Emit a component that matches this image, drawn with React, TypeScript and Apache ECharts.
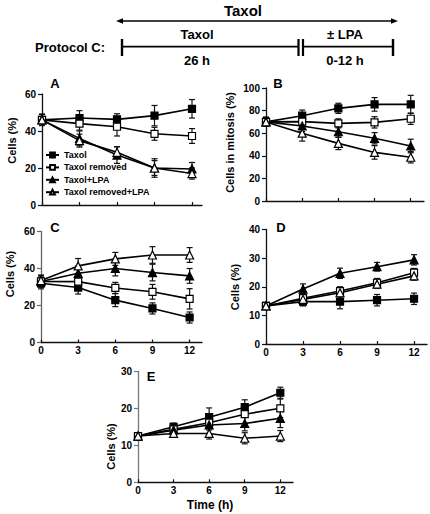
import React, { useEffect, useRef } from "react";
import * as echarts from "echarts";

const FONT = "Liberation Sans, Arial, Helvetica, sans-serif";

const timePoints = [0, 3, 6, 9, 12];
const seriesNames = ["Taxol", "Taxol removed", "Taxol+LPA", "Taxol removed+LPA"];

// Panel A (Cells %)
const aTaxol = [46, 47, 46.3, 48.3, 52];
const aTaxolErr = [3, 4, 3, 5.5, 5];
const aRemoved = [46, 44, 42.3, 38.5, 37.3];
const aRemovedErr = [3, 3.5, 5, 3.5, 4];
const aLPA = [46, 36, 27, 20, 19.5];
const aLPAErr = [3, 4, 4.5, 5, 3.5];
const aRemovedLPA = [46, 34.8, 28.5, 20, 17];
const aRemovedLPAErr = [3, 3.5, 3, 4, 3];

// Panel B (Cells in mitosis %)
const bTaxol = [70, 75.5, 82, 85.5, 85.5];
const bTaxolErr = [4, 5, 4.5, 6, 8];
const bRemoved = [70, 70.2, 68.7, 69.6, 72.8];
const bRemovedErr = [4, 4, 4, 5, 5];
const bLPA = [70, 66.4, 61.3, 55.5, 48.7];
const bLPAErr = [4, 5, 5, 5, 6];
const bRemovedLPA = [70, 60, 51, 43, 38.7];
const bRemovedLPAErr = [4, 7, 5.5, 6, 5];

// Panel C (Cells %)
const cTaxol = [32, 29.7, 22.9, 18.4, 13.5];
const cTaxolErr = [3, 3.5, 3.5, 3, 3];
const cRemoved = [33, 32.9, 29.5, 27.4, 23.6];
const cRemovedErr = [3, 3.5, 3, 4, 5.5];
const cLPA = [33, 37.4, 40, 37.8, 36];
const cLPAErr = [3, 4, 4, 4.5, 4];
const cRemovedLPA = [33.5, 41.4, 45.2, 47.3, 47.3];
const cRemovedLPAErr = [3, 4, 3.5, 4.5, 4];

// Panel D (Cells %)
const dTaxol = [13.3, 14.8, 14.8, 15.3, 15.8];
const dTaxolErr = [1, 1.5, 2.5, 2, 2];
const dRemoved = [13.3, 16, 18.5, 21.4, 24.9];
const dRemovedErr = [1, 1.5, 1.5, 1.5, 1.5];
const dLPA = [13.3, 19.2, 24.7, 27, 29.4];
const dLPAErr = [1, 1.8, 1.8, 1.5, 1.8];
const dRemovedLPA = [13.3, 15.6, 17.9, 20.9, 23.8];
const dRemovedLPAErr = [1, 1.5, 1.5, 1.5, 1.5];

// Panel E (Cells %)
const eTaxol = [12.5, 15, 17.6, 20.3, 24.2];
const eTaxolErr = [0.5, 1, 2.5, 2, 1.5];
const eRemoved = [12.5, 14.3, 16.1, 18.4, 20];
const eRemovedErr = [0.5, 1.5, 2, 2.5, 2.5];
const eLPA = [12.5, 14.1, 15.5, 15.9, 17.3];
const eLPAErr = [0.5, 1.5, 2.5, 2, 2.5];
const eRemovedLPA = [12.5, 13.2, 13.2, 11.9, 12.5];
const eRemovedLPAErr = [0.5, 1, 1.5, 1.5, 1.5];

const yMaxA = 60, yMaxB = 100, yMaxC = 60, yMaxD = 40, yMaxE = 30;
const yStepA = 20, yStepB = 20, yStepC = 20, yStepD = 10, yStepE = 10;

const panels = [
  { means: [aTaxol, aRemoved, aLPA, aRemovedLPA], errs: [aTaxolErr, aRemovedErr, aLPAErr, aRemovedLPAErr] },
  { means: [bTaxol, bRemoved, bLPA, bRemovedLPA], errs: [bTaxolErr, bRemovedErr, bLPAErr, bRemovedLPAErr] },
  { means: [cTaxol, cRemoved, cLPA, cRemovedLPA], errs: [cTaxolErr, cRemovedErr, cLPAErr, cRemovedLPAErr] },
  { means: [dTaxol, dRemoved, dLPA, dRemovedLPA], errs: [dTaxolErr, dRemovedErr, dLPAErr, dRemovedLPAErr] },
  { means: [eTaxol, eRemoved, eLPA, eRemovedLPA], errs: [eTaxolErr, eRemovedErr, eLPAErr, eRemovedLPAErr] },
];

const markerStyles = [
  { symbol: "rect", fill: "#000", size: 7 },
  { symbol: "rect", fill: "#fff", size: 7 },
  { symbol: "triangle", fill: "#000", size: 8 },
  { symbol: "triangle", fill: "#fff", size: 8 },
];

function buildOption() {
  const grids = [
    { left: 42, top: 94, width: 160, height: 111 },
    { left: 266, top: 88, width: 158, height: 113 },
    { left: 41, top: 231.5, width: 161, height: 111 },
    { left: 266, top: 229.5, width: 161, height: 114.5 },
    { left: 138, top: 371.3, width: 155, height: 111 },
  ];
  const xMaxes = [12.8, 13.1, 13, 13.05, 13.07];
  const yMaxes = [yMaxA, yMaxB, yMaxC, yMaxD, yMaxE];
  const ySteps = [yStepA, yStepB, yStepC, yStepD, yStepE];
  const yAxisColors = ["#111", "#111", "#666", "#111", "#777"];
  const showXLabels = [false, false, true, true, true];

  const xAxis = grids.map((_, i) => ({
    type: "value",
    gridIndex: i,
    min: 0,
    max: xMaxes[i],
    splitLine: { show: false },
    axisLine: { show: true, lineStyle: { color: "#111", width: 1.3 } },
    axisTick: { show: true, inside: true, length: 3, customValues: timePoints, lineStyle: { color: "#111", width: 1.2 } },
    axisLabel: {
      show: showXLabels[i],
      customValues: timePoints,
      margin: 3,
      fontSize: 10,
      fontWeight: "bold",
      fontFamily: FONT,
      color: "#000",
    },
  }));

  const yAxis = grids.map((_, i) => ({
    type: "value",
    gridIndex: i,
    min: 0,
    max: yMaxes[i],
    interval: ySteps[i],
    splitLine: { show: false },
    axisLine: { show: true, lineStyle: { color: yAxisColors[i], width: 1.3 } },
    axisTick: { show: true, length: 4, lineStyle: { color: yAxisColors[i], width: 1.2 } },
    axisLabel: { margin: 6, fontSize: 10, fontWeight: "bold", fontFamily: FONT, color: "#000" },
  }));

  const series: any[] = [];
  panels.forEach((p, gi) => {
    p.means.forEach((vals, si) => {
      const errs = p.errs[si];
      series.push({
        type: "custom",
        name: seriesNames[si] + " error",
        xAxisIndex: gi,
        yAxisIndex: gi,
        z: 1,
        clip: false,
        silent: true,
        encode: { x: 0, y: [1, 2] },
        data: timePoints.map((t, k) => [t, vals[k] - errs[k], vals[k] + errs[k]]),
        renderItem: (params: any, api: any) => {
          const x = api.value(0);
          const lo = api.coord([x, api.value(1)]);
          const hi = api.coord([x, api.value(2)]);
          const w = 3;
          const st = { stroke: "#111", lineWidth: 1.2 };
          return {
            type: "group",
            children: [
              { type: "line", shape: { x1: lo[0], y1: lo[1], x2: hi[0], y2: hi[1] }, style: st },
              { type: "line", shape: { x1: lo[0] - w, y1: lo[1], x2: lo[0] + w, y2: lo[1] }, style: st },
              { type: "line", shape: { x1: hi[0] - w, y1: hi[1], x2: hi[0] + w, y2: hi[1] }, style: st },
            ],
          };
        },
      });
      const m = markerStyles[si];
      series.push({
        type: "line",
        name: seriesNames[si],
        xAxisIndex: gi,
        yAxisIndex: gi,
        z: 3,
        clip: false,
        symbol: m.symbol,
        symbolSize: m.size,
        showAllSymbol: true,
        lineStyle: { color: "#000", width: 1.6 },
        itemStyle: { color: m.fill, borderColor: "#000", borderWidth: 1.2, opacity: 1 },
        data: timePoints.map((t, k) => [t, vals[k]]),
      });
    });
  });

  const txt = (text: string, x: number, y: number, size: number, extra: any = {}) => ({
    type: "text",
    x,
    y,
    ...extra,
    style: {
      text,
      fill: "#000",
      font: `bold ${size}px ${FONT}`,
      align: extra.align || "center",
      verticalAlign: "middle",
    },
  });
  const seg = (x1: number, y1: number, x2: number, y2: number, w: number) => ({
    type: "line",
    shape: { x1, y1, x2, y2 },
    style: { stroke: "#000", lineWidth: w },
  });
  const rot = { rotation: Math.PI / 2 };

  const graphic = [
    txt("Taxol", 243, 10, 15),
    seg(120, 21, 394, 21, 1.3),
    { type: "polygon", shape: { points: [[116, 21], [123, 18.3], [123, 23.7]] }, style: { fill: "#000" } },
    { type: "polygon", shape: { points: [[398, 21], [391, 18.3], [391, 23.7]] }, style: { fill: "#000" } },
    txt("Protocol C:", 35, 47, 13, { align: "left" }),
    seg(122, 39, 122, 56, 2.4),
    seg(122, 46.7, 298.5, 46.7, 1.8),
    seg(298.5, 39, 298.5, 56, 2.2),
    seg(303, 39, 303, 56, 2.2),
    seg(303, 46.7, 393, 46.7, 1.8),
    seg(393, 39, 393, 56, 2.4),
    txt("Taxol", 197, 34.5, 13),
    txt("26 h", 197, 60, 13),
    txt("± LPA", 345, 34.5, 13),
    txt("0-12 h", 345, 60, 13),
    txt("A", 55, 83.5, 13),
    txt("B", 278, 83.5, 13),
    txt("C", 55, 227.5, 13),
    txt("D", 281, 227.5, 13),
    txt("E", 151, 376, 13),
    txt("Cells (%)", 12, 140.5, 11, rot),
    txt("Cells in mitosis (%)", 230, 142.4, 11, rot),
    txt("Cells (%)", 10, 274, 11, rot),
    txt("Cells (%)", 235, 287, 11, rot),
    txt("Cells (%)", 111, 446.5, 11, rot),
    txt("Time (h)", 210, 505, 12),
  ];

  return {
    animation: false,
    backgroundColor: "#fff",
    grid: grids.map((g) => ({ ...g, containLabel: false })),
    xAxis,
    yAxis,
    legend: {
      show: true,
      orient: "vertical",
      left: 45,
      top: 150.5,
      padding: 0,
      itemWidth: 13,
      itemHeight: 6,
      itemGap: 3.4,
      selectedMode: false,
      data: seriesNames,
      textStyle: { fontSize: 9, fontWeight: "bold", fontFamily: FONT, color: "#000" },
    },
    graphic,
    series,
  };
}

export default function App() {
  const ref = useRef<HTMLDivElement>(null);
  useEffect(() => {
    if (!ref.current) return;
    const chart = echarts.init(ref.current, null, { renderer: "svg" });
    chart.setOption(buildOption() as any);
    return () => chart.dispose();
  }, []);
  return (
    <div
      ref={ref}
      style={{ position: "fixed", left: 0, top: 0, width: 430, height: 514, background: "#fff" }}
    />
  );
}
